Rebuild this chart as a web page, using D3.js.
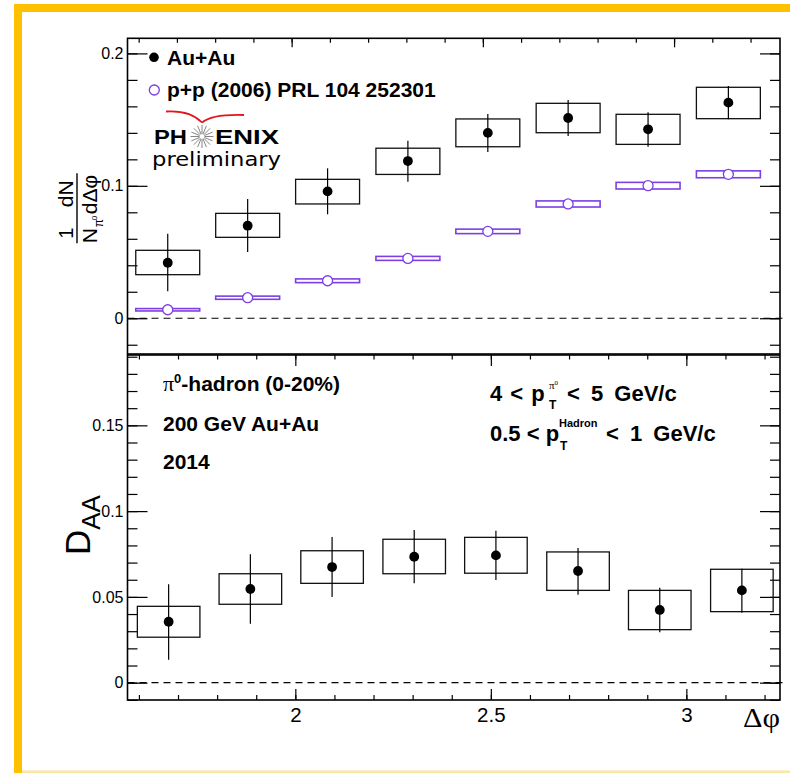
<!DOCTYPE html>
<html>
<head>
<meta charset="utf-8">
<script src="https://cdn.jsdelivr.net/npm/d3@7"></script>
<style>
  body { margin: 0; background: #fff; }
  svg { display: block; }
</style>
</head>
<body>
<script>
// delta phi bin centres (rad)
const dphi = [1.676, 1.885, 2.094, 2.304, 2.513, 2.723, 2.932, 3.142];

// top panel: Au+Au per-trigger yield, stat errors and systematic boxes
const auau       = [0.0419, 0.0699, 0.0958, 0.1187, 0.1400, 0.1512, 0.1427, 0.1628];
const auauStatLo = [0.0203, 0.0500, 0.0785, 0.1031, 0.1255, 0.1376, 0.1295, 0.1502];
const auauStatHi = [0.0638, 0.0900, 0.1132, 0.1340, 0.1542, 0.1648, 0.1555, 0.1754];
const auauSysLo  = [0.0329, 0.0611, 0.0863, 0.1086, 0.1295, 0.1401, 0.1313, 0.1507];
const auauSysHi  = [0.0513, 0.0792, 0.1049, 0.1284, 0.1505, 0.1623, 0.1540, 0.1744];

// top panel: p+p reference and its systematic half-height
const pp    = [0.0064, 0.0155, 0.0283, 0.0452, 0.0656, 0.0863, 0.1001, 0.1087];
const ppSys = [0.0009, 0.0012, 0.0014, 0.0015, 0.0017, 0.0023, 0.0025, 0.0026];

// bottom panel: D_AA
const daa       = [0.0355, 0.0546, 0.0674, 0.0734, 0.0742, 0.0651, 0.0424, 0.0538];
const daaStatLo = [0.0134, 0.0344, 0.0499, 0.0579, 0.0598, 0.0513, 0.0294, 0.0408];
const daaStatHi = [0.0573, 0.0748, 0.0849, 0.0890, 0.0886, 0.0785, 0.0554, 0.0664];
const daaSysLo  = [0.0265, 0.0457, 0.0579, 0.0635, 0.0638, 0.0538, 0.0309, 0.0414];
const daaSysHi  = [0.0445, 0.0635, 0.0769, 0.0836, 0.0847, 0.0762, 0.0538, 0.0661];

// tick labels
const xTickLabels = [2, 2.5, 3];
const yTopTicks = [0, 0.1, 0.2];
const yBotTicks = [0, 0.05, 0.1, 0.15];

const FONT = "'Liberation Sans', Arial, Helvetica, sans-serif";
const PURPLE = "#7c3fe6";

const svg = d3.select("body").append("svg")
    .attr("width", 790).attr("height", 773);

svg.append("rect").attr("width", 790).attr("height", 773).attr("fill", "#fff");

// yellow slide frame
svg.append("rect").attr("x", 14).attr("y", 4).attr("width", 776).attr("height", 8).attr("fill", "#ffc000");
svg.append("rect").attr("x", 14).attr("y", 4).attr("width", 8).attr("height", 769).attr("fill", "#ffc000");
svg.append("rect").attr("x", 22).attr("y", 770.5).attr("width", 768).attr("height", 2.5).attr("fill", "#fbe6a2");

// scales (the two pads have slightly different x ranges)
const xTop = d3.scaleLinear().domain([Math.PI / 2, 3.277]).range([127.5, 780]);
const yTop = d3.scaleLinear().domain([-0.027, 0.2114]).range([354, 38.3]);
const xBot = d3.scaleLinear().domain([Math.PI / 2, 3.2395]).range([127.5, 780]);
const yBot = d3.scaleLinear().domain([-0.0101, 0.191]).range([700, 355]);

function styleAxis(g, size) {
    g.select(".domain").remove();
    g.selectAll("line").attr("stroke", "#000").attr("stroke-width", 1.2);
    g.selectAll("text").attr("font-family", FONT).attr("font-size", size).attr("fill", "#000");
}

// draws frame, ticks on all four sides and the dashed zero line
function drawFrame(x, y, yMajor, yMinorStep, xMajorLen, xMinorLen, bottomTicks, xLabels) {
    const [x0, x1] = x.range();
    const [yb, yt] = y.range();
    const xMinor = d3.range(1.6, 3.25, 0.1).filter(v => v < x.domain()[1]);
    const yMinor = d3.range(0, y.domain()[1], yMinorStep).concat(d3.range(-yMinorStep, y.domain()[0], -yMinorStep));

    // left
    svg.append("g").attr("transform", `translate(${x0},0)`)
        .call(d3.axisLeft(y).tickValues(yMinor).tickSize(-10).tickFormat(""))
        .call(g => styleAxis(g, 16));
    svg.append("g").attr("transform", `translate(${x0},0)`)
        .call(d3.axisLeft(y).tickValues(yMajor).tickSize(-20).tickPadding(4).tickFormat(d3.format("~g")))
        .call(g => styleAxis(g, 16));
    // right
    svg.append("g").attr("transform", `translate(${x1},0)`)
        .call(d3.axisRight(y).tickValues(yMinor).tickSize(-10).tickFormat(""))
        .call(g => styleAxis(g, 16));
    svg.append("g").attr("transform", `translate(${x1},0)`)
        .call(d3.axisRight(y).tickValues(yMajor).tickSize(-20).tickFormat(""))
        .call(g => styleAxis(g, 16));
    // top
    svg.append("g").attr("transform", `translate(0,${yt})`)
        .call(d3.axisTop(x).tickValues(xMinor).tickSize(-xMinorLen).tickFormat(""))
        .call(g => styleAxis(g, 20));
    svg.append("g").attr("transform", `translate(0,${yt})`)
        .call(d3.axisTop(x).tickValues(xLabels).tickSize(-xMajorLen).tickFormat(""))
        .call(g => styleAxis(g, 20));
    if (bottomTicks) {
        svg.append("g").attr("transform", `translate(0,${yb})`)
            .call(d3.axisBottom(x).tickValues(xMinor).tickSize(-5).tickFormat(""))
            .call(g => styleAxis(g, 20));
        svg.append("g").attr("transform", `translate(0,${yb})`)
            .call(d3.axisBottom(x).tickValues(xLabels).tickSize(-11).tickPadding(7.5).tickFormat(d3.format("~g")))
            .call(g => styleAxis(g, 20.5));
    }

    // dashed zero line
    svg.append("line")
        .attr("x1", x0).attr("x2", x1 + 3)
        .attr("y1", y(0)).attr("y2", y(0))
        .attr("stroke", "#000").attr("stroke-width", 1.1)
        .attr("stroke-dasharray", "7,5");

    svg.append("rect")
        .attr("x", x0).attr("y", yt)
        .attr("width", x1 - x0).attr("height", yb - yt)
        .attr("fill", "none").attr("stroke", "#000").attr("stroke-width", 1.6);
}

// systematic boxes + stat bars + markers
function drawSeries(x, y, half, vals, sysLo, sysHi, statLo, statHi) {
    const g = svg.append("g");
    g.selectAll("rect").data(vals).enter().append("rect")
        .attr("x", (d, i) => x(dphi[i] - half))
        .attr("y", (d, i) => y(sysHi[i]))
        .attr("width", x(dphi[0] + half) - x(dphi[0] - half))
        .attr("height", (d, i) => y(sysLo[i]) - y(sysHi[i]))
        .attr("fill", "none").attr("stroke", "#111").attr("stroke-width", 1.3);
    g.selectAll("line").data(vals).enter().append("line")
        .attr("x1", (d, i) => x(dphi[i])).attr("x2", (d, i) => x(dphi[i]))
        .attr("y1", (d, i) => y(statLo[i])).attr("y2", (d, i) => y(statHi[i]))
        .attr("stroke", "#000").attr("stroke-width", 1.2);
    g.selectAll("circle").data(vals).enter().append("circle")
        .attr("cx", (d, i) => x(dphi[i]))
        .attr("cy", d => y(d))
        .attr("r", 4.9).attr("fill", "#000");
}

// ---------- top panel ----------
drawFrame(xTop, yTop, yTopTicks, 0.02, 9, 4.5, false, xTickLabels);

// p+p boxes and open circles
svg.append("g").selectAll("rect").data(pp).enter().append("rect")
    .attr("x", (d, i) => xTop(dphi[i] - 0.0836))
    .attr("y", (d, i) => yTop(d + ppSys[i]))
    .attr("width", xTop(dphi[0] + 0.0836) - xTop(dphi[0] - 0.0836))
    .attr("height", (d, i) => yTop(d - ppSys[i]) - yTop(d + ppSys[i]))
    .attr("fill", "none").attr("stroke", PURPLE).attr("stroke-width", 1.6);
svg.append("g").selectAll("circle").data(pp).enter().append("circle")
    .attr("cx", (d, i) => xTop(dphi[i]))
    .attr("cy", d => yTop(d))
    .attr("r", 5).attr("fill", "#fff").attr("stroke", PURPLE).attr("stroke-width", 1.3);

drawSeries(xTop, yTop, 0.0836, auau, auauSysLo, auauSysHi, auauStatLo, auauStatHi);

// legend
svg.append("circle").attr("cx", 154).attr("cy", 57.3).attr("r", 4.8).attr("fill", "#000");
svg.append("text").attr("x", 167).attr("y", 64.5).attr("font-family", FONT)
    .attr("font-weight", "bold").attr("font-size", 21).text("Au+Au");
svg.append("circle").attr("cx", 154.3).attr("cy", 90).attr("r", 5)
    .attr("fill", "none").attr("stroke", PURPLE).attr("stroke-width", 1.3);
svg.append("text").attr("x", 167).attr("y", 97.3).attr("font-family", FONT)
    .attr("font-weight", "bold").attr("font-size", 21).text("p+p (2006) PRL 104 252301");

// PHENIX preliminary logo
svg.append("path").attr("d", "M166,111.5 Q190,110 202,122.5").attr("fill", "none")
    .attr("stroke", "#e3161d").attr("stroke-width", 1.8);
svg.append("path").attr("d", "M202,122.5 Q212,114 244,115").attr("fill", "none")
    .attr("stroke", "#e3161d").attr("stroke-width", 1.8);
svg.append("text").attr("x", 154).attr("y", 143.5).attr("font-family", FONT)
    .attr("font-weight", "bold").attr("font-size", 21)
    .attr("textLength", 33).attr("lengthAdjust", "spacingAndGlyphs").text("PH");
svg.append("text").attr("x", 215).attr("y", 143.5).attr("font-family", FONT)
    .attr("font-weight", "bold").attr("font-size", 21)
    .attr("textLength", 64).attr("lengthAdjust", "spacingAndGlyphs").text("ENIX");
svg.append("g").selectAll("line").data(d3.range(16)).enter().append("line")
    .attr("x1", d => 202 + 2.5 * Math.cos(d * Math.PI / 8))
    .attr("y1", d => 136.5 + 2.5 * Math.sin(d * Math.PI / 8))
    .attr("x2", d => 202 + 11.5 * Math.cos(d * Math.PI / 8))
    .attr("y2", d => 136.5 + 11.5 * Math.sin(d * Math.PI / 8))
    .attr("stroke", "#666").attr("stroke-width", 0.8);
svg.append("text").attr("x", 152).attr("y", 166).attr("font-family", "'DejaVu Sans', sans-serif")
    .attr("font-size", 19.5).attr("textLength", 129).attr("lengthAdjust", "spacingAndGlyphs")
    .text("preliminary");

// y title (rotated fraction)
const yt = svg.append("g").attr("transform", "translate(77,243.3) rotate(-90)")
    .attr("font-family", FONT).attr("fill", "#000");
yt.append("line").attr("x1", 0).attr("x2", 70).attr("y1", 0).attr("y2", 0)
    .attr("stroke", "#000").attr("stroke-width", 1.4);
yt.append("text").attr("x", 10).attr("y", -4).attr("text-anchor", "middle").attr("font-size", 20).text("1");
yt.append("text").attr("x", 36).attr("y", -4).attr("font-size", 21).text("dN");
yt.append("text").attr("x", 0).attr("y", 20).attr("font-size", 21).text("N");
yt.append("text").attr("x", 16).attr("y", 26).attr("font-size", 12).text("π");
yt.append("text").attr("x", 23).attr("y", 20).attr("font-size", 8).text("0");
yt.append("text").attr("x", 29).attr("y", 20).attr("font-size", 21).text("dΔφ");

// ---------- bottom panel ----------
drawFrame(xBot, yBot, yBotTicks, 0.01, 11, 4.5, true, xTickLabels);
drawSeries(xBot, yBot, 0.08, daa, daaSysLo, daaSysHi, daaStatLo, daaStatHi);

// y title D_AA
const dt = svg.append("text").attr("transform", "translate(90,555) rotate(-90)")
    .attr("font-family", FONT).attr("font-size", 35);
dt.append("tspan").text("D");
dt.append("tspan").attr("font-size", 26).attr("dy", 10).text("AA");

// x title
svg.append("text").attr("x", 743).attr("y", 727)
    .attr("font-family", "'Liberation Serif', 'Times New Roman', serif")
    .attr("font-size", 27).attr("textLength", 37).attr("lengthAdjust", "spacingAndGlyphs")
    .text("Δφ");

// annotations
const ann = svg.append("g").attr("font-family", FONT).attr("font-weight", "bold").attr("fill", "#000");
const t1 = ann.append("text").attr("x", 163).attr("y", 391).attr("font-size", 21);
t1.append("tspan").attr("font-family", "'Liberation Serif', serif").attr("font-weight", "normal")
    .attr("font-size", 22).text("π");
t1.append("tspan").attr("font-size", 13).attr("dy", -8).text("0");
t1.append("tspan").attr("dy", 8).text("-hadron (0-20%)");
ann.append("text").attr("x", 163).attr("y", 431).attr("font-size", 21).text("200 GeV Au+Au");
ann.append("text").attr("x", 163).attr("y", 469).attr("font-size", 21).text("2014");

ann.append("text").attr("x", 490).attr("y", 401).attr("font-size", 22)
    .attr("word-spacing", 2).text("4 < p");
ann.append("text").attr("x", 549).attr("y", 409).attr("font-size", 12).text("T");
const s1 = ann.append("text").attr("x", 549).attr("y", 389).attr("font-size", 11)
    .attr("font-family", "'Liberation Serif', serif").attr("font-weight", "normal");
s1.append("tspan").text("π");
s1.append("tspan").attr("font-size", 7).attr("dy", -4).text("0");
ann.append("text").attr("x", 567).attr("y", 401).attr("font-size", 22)
    .attr("word-spacing", 5).text("< 5 GeV/c");

ann.append("text").attr("x", 490).attr("y", 441).attr("font-size", 22)
    .attr("word-spacing", 0).text("0.5 < p");
ann.append("text").attr("x", 560).attr("y", 450).attr("font-size", 12).text("T");
ann.append("text").attr("x", 559).attr("y", 427).attr("font-size", 11).text("Hadron");
ann.append("text").attr("x", 606).attr("y", 441).attr("font-size", 22)
    .attr("word-spacing", 5).text("< 1 GeV/c");
</script>
</body>
</html>
